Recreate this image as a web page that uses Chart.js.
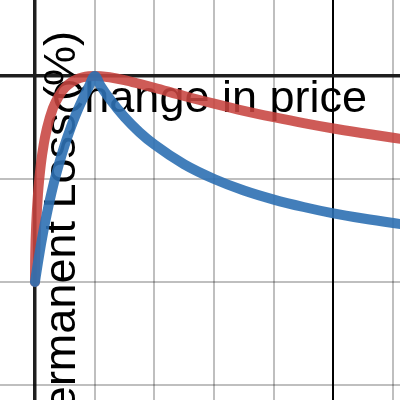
<!DOCTYPE html>
<html>
<head>
<meta charset="utf-8">
<script src="https://cdn.jsdelivr.net/npm/chart.js@4"></script>
<style>
  html, body { margin: 0; padding: 0; background: #fff; }
  #wrap { width: 400px; height: 400px; }
</style>
</head>
<body>
<div id="wrap"><canvas id="chart"></canvas></div>
<script>
// price ratio (x) and loss values
const priceRatio = [0, 0.001, 0.005, 0.01, 0.02, 0.05, 0.1, 0.15, 0.2, 0.3, 0.4, 0.5, 0.6, 0.7, 0.8, 0.9, 1,
  1.1, 1.25, 1.5, 1.75, 2, 2.5, 3, 3.5, 4, 4.5, 5, 5.5, 6, 6.2]
const lossRed = [-1, -0.937, -0.859, -0.802, -0.723, -0.574, -0.425, -0.326, -0.255, -0.157, -0.097, -0.057, -0.032, -0.016, -0.006, -0.001, 0,
  -0.001, -0.006, -0.020, -0.038, -0.057, -0.097, -0.134, -0.169, -0.2, -0.229, -0.255, -0.278, -0.300, -0.308]
const lossBlue = [-1, -0.998, -0.990, -0.980, -0.961, -0.905, -0.818, -0.739, -0.667, -0.538, -0.429, -0.333, -0.25, -0.176, -0.111, -0.053, 0,
  -0.048, -0.111, -0.2, -0.273, -0.333, -0.429, -0.5, -0.556, -0.6, -0.636, -0.667, -0.692, -0.714, -0.722]
const xGrid = [0, 1, 2, 3, 4, 5, 6]
const yGrid = [-1.5, -1, -0.5, 0]
const markerX = 5
const xTitle = "Change in price"
const yTitle = "Impermanent Loss (%)"

function points(xs, ys) {
  return xs.map(function(x, i) {
    return { x: x, y: ys[i] }
  })
}

const titles = {
  id: "titles",
  beforeDatasetsDraw(chart) {
    const ctx = chart.ctx
    ctx.save()
    ctx.fillStyle = "#000"
    ctx.font = "45px 'Liberation Sans', Arial, sans-serif"
    ctx.textBaseline = "alphabetic"
    ctx.textAlign = "right"
    ctx.fillText(xTitle, 367, 112)
    ctx.translate(75, 31)
    ctx.rotate(-Math.PI / 2)
    ctx.fillText(yTitle, 0, 0)
    ctx.restore()
  }
}

function gridColor(c) {
  const v = c.tick.value
  if (v === 0) return "#1e1e1e"
  if (c.scale.axis === "x" && v === markerX) return "#000"
  return "rgba(0,0,0,0.25)"
}
function gridWidth(c) {
  const v = c.tick.value
  if (v === 0) return 3.5
  return 2
}

new Chart(document.getElementById("chart"), {
  type: "line",
  data: {
    datasets: [
      {
        data: points(priceRatio, lossBlue),
        borderColor: "rgba(45,112,179,0.9)",
        borderWidth: 10
      },
      {
        data: points(priceRatio, lossRed),
        borderColor: "rgba(199,68,64,0.88)",
        borderWidth: 10
      }
    ]
  },
  options: {
    responsive: true,
    maintainAspectRatio: false,
    animation: false,
    layout: { padding: 0 },
    elements: {
      point: { radius: 0 },
      line: { cubicInterpolationMode: "monotone", borderCapStyle: "round", borderJoinStyle: "round", fill: false }
    },
    plugins: { legend: { display: false }, title: { display: false }, tooltip: { enabled: false } },
    scales: {
      x: {
        type: "linear",
        min: -0.586,
        max: 6.114,
        afterBuildTicks: function(scale) { scale.ticks = xGrid.map(function(v) { return { value: v } }) },
        ticks: { display: false },
        border: { display: false },
        grid: { color: gridColor, lineWidth: gridWidth, drawTicks: false }
      },
      y: {
        type: "linear",
        min: -1.573,
        max: 0.369,
        afterBuildTicks: function(scale) { scale.ticks = yGrid.map(function(v) { return { value: v } }) },
        ticks: { display: false },
        border: { display: false },
        grid: { color: gridColor, lineWidth: gridWidth, drawTicks: false }
      }
    }
  },
  plugins: [titles]
})
</script>
</body>
</html>
